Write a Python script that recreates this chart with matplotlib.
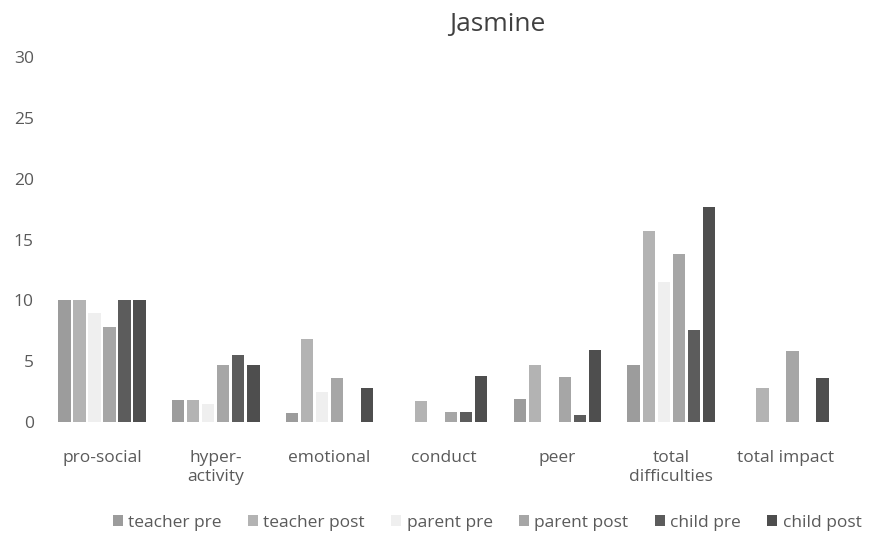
# Jasmine - SDQ scores, pre/post, by informant
import numpy as np
import matplotlib.pyplot as plt

categories = ['pro-social', 'hyper-\nactivity', 'emotional', 'conduct', 'peer',
              'total\ndifficulties', 'total impact']
series = ['teacher pre', 'teacher post', 'parent pre', 'parent post',
          'child pre', 'child post']

teacher_pre = [10, 1.8, 0.7, 0, 1.9, 4.7, 0]
teacher_post = [10, 1.8, 6.8, 1.7, 4.7, 15.7, 2.8]
parent_pre = [9, 1.5, 2.5, 0, 0, 11.5, 0]
parent_post = [7.8, 4.7, 3.6, 0.8, 3.7, 13.8, 5.8]
child_pre = [10, 5.5, 0, 0.8, 0.6, 7.6, 0]
child_post = [10, 4.7, 2.8, 3.8, 5.9, 17.7, 3.6]

yticks = [0, 5, 10, 15, 20, 25, 30]

values = [teacher_pre, teacher_post, parent_pre, parent_post, child_pre, child_post]
colors = ['#9c9c9c', '#b3b3b3', '#efefef', '#a6a6a6', '#5c5c5c', '#4e4e4e']

plt.rcParams['font.family'] = ['Open Sans', 'DejaVu Sans']
txt = '#5a5a5a'

fig = plt.figure(figsize=(8.73, 5.51), dpi=100)
ax = fig.add_axes([45 / 873, 1 - 422 / 551, (842 - 45) / 873, (422 - 57) / 551])

x = np.arange(len(categories))
slot = 0.132
width = 0.108
for i, (vals, c, name) in enumerate(zip(values, colors, series)):
    ax.bar(x + (i - 2.5) * slot, vals, width, color=c, label=name)

ax.set_xlim(-0.5, len(categories) - 0.5)
ax.set_ylim(0, 30)
ax.set_yticks(yticks)
ax.set_xticks(x)
ax.set_xticklabels(categories, fontsize=12.5, color=txt, linespacing=1.25)
ax.tick_params(axis='x', length=0, pad=20)
ax.tick_params(axis='y', length=0, pad=8, labelsize=12.5, labelcolor=txt)
for s in ax.spines.values():
    s.set_visible(False)

fig.text(497 / 873, 1 - 24 / 551, 'Jasmine', ha='center', va='center',
         fontsize=19, color='#404040')

fig.legend(loc='center', bbox_to_anchor=(487 / 873, 1 - 523 / 551), ncol=6,
           frameon=False, fontsize=12.5, labelcolor=txt, handlelength=0.6,
           handleheight=0.6, handletextpad=0.3, columnspacing=1.5)

fig.savefig('out.png', dpi=100)
